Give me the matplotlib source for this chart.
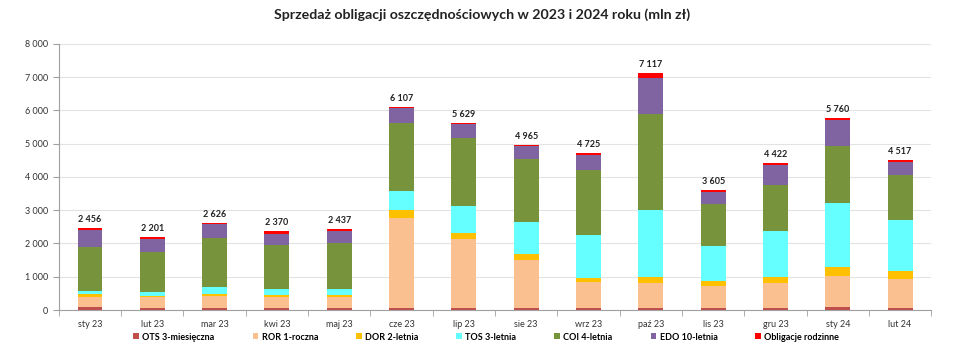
import numpy as np
import matplotlib
matplotlib.use("Agg")
import matplotlib.pyplot as plt
from matplotlib.ticker import FuncFormatter

plt.rcParams['font.family'] = ['Lato', 'DejaVu Sans']

months = ["sty 23", "lut 23", "mar 23", "kwi 23", "maj 23", "cze 23", "lip 23",
          "sie 23", "wrz 23", "paź 23", "lis 23", "gru 23", "sty 24", "lut 24"]

ots = [100, 70, 60, 60, 50, 50, 50, 50, 50, 50, 60, 70, 100, 70]
ror = [300, 310, 360, 340, 330, 2720, 2100, 1450, 800, 750, 660, 730, 930, 860]
dor = [70, 40, 60, 50, 60, 230, 180, 170, 100, 180, 160, 180, 250, 240]
tos = [100, 130, 200, 170, 190, 580, 790, 980, 1320, 2040, 1040, 1390, 1950, 1530]
coi = [1330, 1200, 1500, 1330, 1370, 2050, 2050, 1880, 1950, 2880, 1280, 1400, 1700, 1350]
edo = [500, 400, 400, 350, 370, 440, 430, 390, 430, 1080, 350, 580, 785, 400]
totals = [2456, 2201, 2626, 2370, 2437, 6107, 5629, 4965, 4725, 7117, 3605, 4422, 5760, 4517]

# rodzinne = reszta do sumy
rodzinne = list(np.array(totals) - (np.array(ots) + np.array(ror) + np.array(dor)
                                    + np.array(tos) + np.array(coi) + np.array(edo)))

series = [
    ("OTS 3-miesięczna", ots, "#C0504D"),
    ("ROR 1-roczna", ror, "#FAC090"),
    ("DOR 2-letnia", dor, "#FFC000"),
    ("TOS 3-letnia", tos, "#66FFFF"),
    ("COI 4-letnia", coi, "#77933C"),
    ("EDO 10-letnia", edo, "#8064A2"),
    ("Obligacje rodzinne", rodzinne, "#FF0000"),
]

fig = plt.figure(figsize=(9.65, 3.62), dpi=100)
ax = fig.add_axes([0.061, 0.1436, 0.904, 0.735])

x = np.arange(len(months))
bottom = np.zeros(len(months))
for name, vals, color in series:
    ax.bar(x, vals, 0.4, bottom=bottom, color=color, label=name, zorder=3)
    bottom += np.array(vals)

for xi, t in zip(x, totals):
    ax.text(xi, t + 120, f"{t:,}".replace(",", " "), ha="center", va="bottom",
            fontsize=6.5, fontweight="bold", color="#222222")

ax.set_xlim(-0.5, len(months) - 0.5)
ax.set_ylim(0, 8000)
ax.set_yticks(np.arange(0, 8001, 1000))
ax.yaxis.set_major_formatter(FuncFormatter(lambda v, p: f"{int(v):,}".replace(",", " ")))
ax.set_xticks(x)
ax.set_xticklabels(months)
ax.set_xticks(np.arange(-0.5, len(months)), minor=True)
ax.tick_params(axis="x", which="major", length=0, labelsize=6.5, colors="#333333", pad=7)
ax.tick_params(axis="x", which="minor", length=4, color="#A0A0A0")
ax.tick_params(axis="y", length=4, color="#A0A0A0", labelsize=6.5, labelcolor="#333333")
ax.grid(axis="y", color="#E3E3E3", linewidth=0.8, zorder=0)
for s in ["top", "right"]:
    ax.spines[s].set_visible(False)
ax.spines["left"].set_color("#A0A0A0")
ax.spines["bottom"].set_color("#A0A0A0")

fig.text(0.5, 0.959, "Sprzedaż obligacji oszczędnościowych w 2023 i 2024 roku (mln zł)",
         ha="center", va="center", fontsize=10.2, fontweight="bold", color="#222222")

fig.legend(loc="center", bbox_to_anchor=(0.504, 0.069), ncol=7, frameon=False,
           prop={"size": 6.5, "weight": "bold"}, handlelength=0.6, handleheight=0.6,
           handletextpad=0.4, columnspacing=4.2)

fig.savefig("out.png", dpi=100)
